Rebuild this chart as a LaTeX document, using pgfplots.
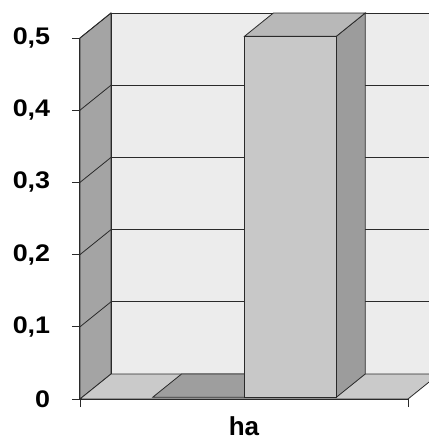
\documentclass[border=0pt]{standalone}
\usepackage{fontspec}
\setmainfont{Liberation Sans}
\usepackage{pgfplots}
\pgfplotsset{compat=1.18}
\definecolor{backwall}{HTML}{ECECEC}
\definecolor{sidewall}{HTML}{A4A4A4}
\definecolor{floorc}{HTML}{CACACA}
\definecolor{barAtop}{HTML}{9E9E9E}
\definecolor{barBfront}{HTML}{C8C8C8}
\definecolor{barBside}{HTML}{9C9C9C}
\definecolor{barBtop}{HTML}{B8B8B8}
\definecolor{edge}{HTML}{2A2A2A}
\begin{document}
\begin{tikzpicture}
\begin{axis}[
  scale only axis,
  width=328pt, height=361pt,
  xmin=0, xmax=1, ymin=0, ymax=0.5,
  clip=false,
  axis lines=left,
  axis line style={-, draw=edge, line width=0.9pt},
  tick align=outside,
  major tick length=8pt,
  tick style={draw=edge, line width=0.8pt},
  ytick={0,0.1,0.2,0.3,0.4,0.5},
  /pgf/number format/fixed,
  /pgf/number format/precision=1,
  /pgf/number format/use comma,
  /pgf/number format/assume math mode=true,
  yticklabel style={font=\fontsize{24}{24}\selectfont\bfseries, xscale=1.12, xshift=-16pt},
  xtick={0,1}, xticklabels={},
  extra x ticks={0.5}, extra x tick labels={ha},
  extra x tick style={major tick length=0pt, xticklabel style={font=\fontsize{26}{26}\selectfont\bfseries, yshift=-14pt}},
  ln/.style={draw=edge, line width=0.8pt, mark=none, solid},
  pg/.style={draw=edge, line width=0.8pt, mark=none, solid, fill=#1},
]
% walls and floor
\addplot[pg=sidewall] coordinates {(0,0) (0.0945,0.0346) (0.0945,0.5346) (0,0.5)} -- cycle;
\addplot[pg=backwall] coordinates {(0.0945,0.0346) (1.0945,0.0346) (1.0945,0.5346) (0.0945,0.5346)} -- cycle;
\addplot[pg=floorc] coordinates {(0,0) (1,0) (1.0945,0.0346) (0.0945,0.0346)} -- cycle;
% gridlines on back wall
\addplot[ln] coordinates {(0.0945,0.1346) (1.0945,0.1346)};
\addplot[ln] coordinates {(0.0945,0.2346) (1.0945,0.2346)};
\addplot[ln] coordinates {(0.0945,0.3346) (1.0945,0.3346)};
\addplot[ln] coordinates {(0.0945,0.4346) (1.0945,0.4346)};
\addplot[ln] coordinates {(0.0945,0.5346) (1.0945,0.5346)};
% gridlines on side wall
\addplot[ln] coordinates {(0,0.1) (0.0945,0.1346)};
\addplot[ln] coordinates {(0,0.2) (0.0945,0.2346)};
\addplot[ln] coordinates {(0,0.3) (0.0945,0.3346)};
\addplot[ln] coordinates {(0,0.4) (0.0945,0.4346)};
\addplot[ln] coordinates {(0,0.5) (0.0945,0.5346)};
% series 1: value 0 (top face only)
\addplot[pg=barAtop] coordinates {(0.2216,0.0024) (0.5016,0.0024) (0.5895,0.0346) (0.3095,0.0346)} -- cycle;
% series 2: value 0.5
\addplot[pg=barBside] coordinates {(0.7816,0.0024) (0.8695,0.0346) (0.8695,0.5346) (0.7816,0.5024)} -- cycle;
\addplot[pg=barBtop] coordinates {(0.5016,0.5024) (0.7816,0.5024) (0.8695,0.5346) (0.5895,0.5346)} -- cycle;
\addplot[pg=barBfront] coordinates {(0.5016,0.0024) (0.7816,0.0024) (0.7816,0.5024) (0.5016,0.5024)} -- cycle;
% front edges
\addplot[ln, line width=1pt] coordinates {(0,0) (1,0)};
\addplot[ln, line width=1pt] coordinates {(0,0) (0,0.5)};
\end{axis}
\pgfresetboundingbox
\path[use as bounding box] ([xshift=-80pt,yshift=-42pt]current axis.south west) rectangle ([xshift=20pt,yshift=38pt]current axis.north east);
\end{tikzpicture}
\end{document}
